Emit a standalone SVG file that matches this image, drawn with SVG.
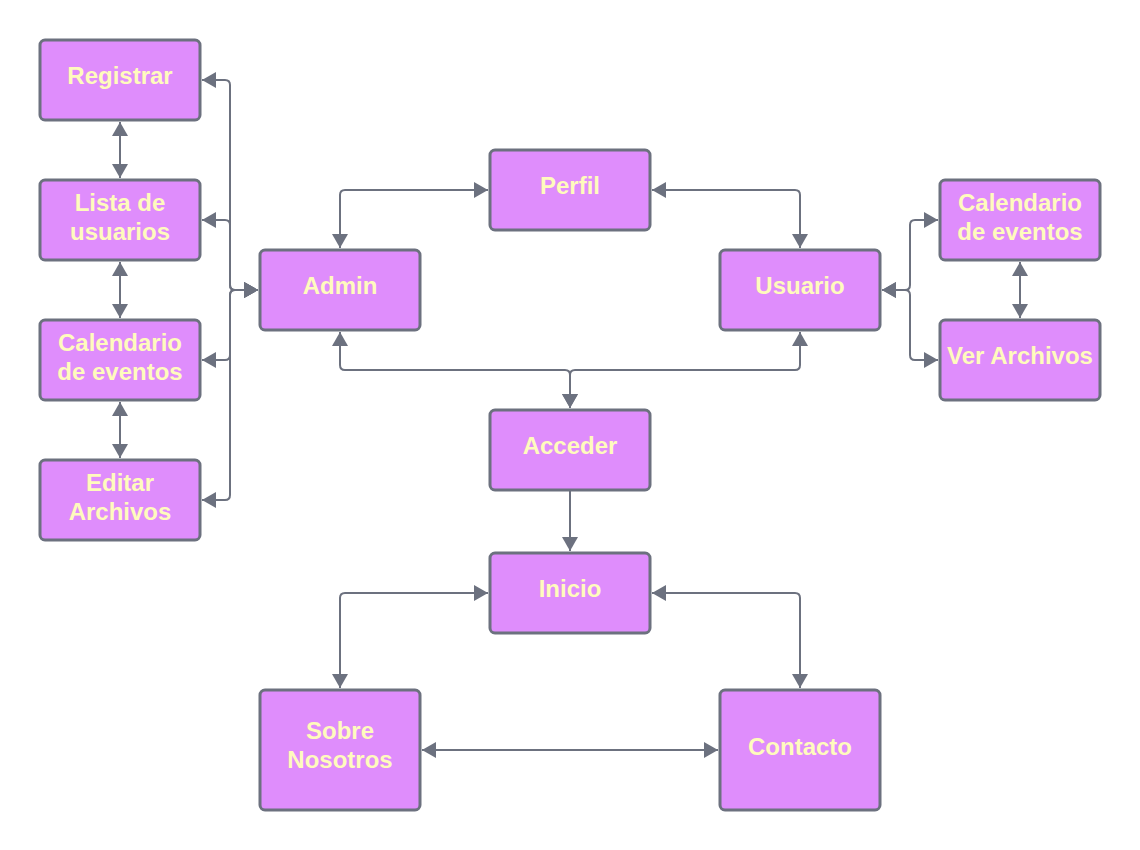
<svg xmlns="http://www.w3.org/2000/svg" width="1140" height="850" viewBox="0 0 1140 850">
  <style>
    .box { fill: #df8dfc; stroke: #6c717f; stroke-width: 3; }
    .lbl { font-family: "Liberation Sans", Arial, sans-serif; font-weight: bold; font-size: 24px; fill: #fffbbd; text-anchor: middle; }
    .wire { fill: none; stroke: #6c717f; stroke-width: 2; }
    .both { marker-start: url(#head); marker-end: url(#head); }
    .end { marker-end: url(#head); }
  </style>
  <defs>
    <marker id="head" viewBox="0 0 14 16" refX="14" refY="8" markerWidth="14" markerHeight="16" markerUnits="userSpaceOnUse" orient="auto-start-reverse">
      <path d="M0,0 L14,8 L0,16 Z" fill="#6c717f"/>
    </marker>
  </defs>
  <rect width="1140" height="850" fill="#ffffff"/>

  <!-- connectors -->
  <g id="connectors">
    <!-- left column chain -->
    <path class="wire both" d="M120,122 V178"/>
    <path class="wire both" d="M120,262 V318"/>
    <path class="wire both" d="M120,402 V458"/>
    <!-- Admin fan-out to the left column -->
    <path class="wire both" d="M258,290 H235 Q230,290 230,285 V85 Q230,80 225,80 H202"/>
    <path class="wire both" d="M258,290 H235 Q230,290 230,285 V225 Q230,220 225,220 H202"/>
    <path class="wire both" d="M258,290 H235 Q230,290 230,295 V355 Q230,360 225,360 H202"/>
    <path class="wire both" d="M258,290 H235 Q230,290 230,295 V495 Q230,500 225,500 H202"/>
    <!-- Admin / Perfil / Usuario -->
    <path class="wire both" d="M340,248 V195 Q340,190 345,190 H488"/>
    <path class="wire both" d="M652,190 H795 Q800,190 800,195 V248"/>
    <!-- Usuario fan-out to the right column -->
    <path class="wire both" d="M882,290 H905 Q910,290 910,285 V225 Q910,220 915,220 H938"/>
    <path class="wire both" d="M882,290 H905 Q910,290 910,295 V355 Q910,360 915,360 H938"/>
    <path class="wire both" d="M1020,262 V318"/>
    <!-- Acceder to Admin and Usuario -->
    <path class="wire both" d="M570,408 V375 Q570,370 565,370 H345 Q340,370 340,365 V332"/>
    <path class="wire both" d="M570,408 V375 Q570,370 575,370 H795 Q800,370 800,365 V332"/>
    <!-- Acceder to Inicio -->
    <path class="wire end" d="M570,491 V551"/>
    <!-- Inicio / Sobre Nosotros / Contacto -->
    <path class="wire both" d="M488,593 H345 Q340,593 340,598 V688"/>
    <path class="wire both" d="M652,593 H795 Q800,593 800,598 V688"/>
    <path class="wire both" d="M422,750 H718"/>
  </g>

  <!-- nodes -->
  <g id="registrar">
    <rect class="box" x="40" y="40" width="160" height="80" rx="5"/>
    <text class="lbl" x="120" y="84">Registrar</text>
  </g>
  <g id="lista-usuarios">
    <rect class="box" x="40" y="180" width="160" height="80" rx="5"/>
    <text class="lbl" x="120" y="211">Lista de</text>
    <text class="lbl" x="120" y="240">usuarios</text>
  </g>
  <g id="calendario-admin">
    <rect class="box" x="40" y="320" width="160" height="80" rx="5"/>
    <text class="lbl" x="120" y="351">Calendario</text>
    <text class="lbl" x="120" y="380">de eventos</text>
  </g>
  <g id="editar-archivos">
    <rect class="box" x="40" y="460" width="160" height="80" rx="5"/>
    <text class="lbl" x="120" y="491">Editar</text>
    <text class="lbl" x="120" y="520">Archivos</text>
  </g>
  <g id="admin">
    <rect class="box" x="260" y="250" width="160" height="80" rx="5"/>
    <text class="lbl" x="340" y="294">Admin</text>
  </g>
  <g id="perfil">
    <rect class="box" x="490" y="150" width="160" height="80" rx="5"/>
    <text class="lbl" x="570" y="194">Perfil</text>
  </g>
  <g id="usuario">
    <rect class="box" x="720" y="250" width="160" height="80" rx="5"/>
    <text class="lbl" x="800" y="294">Usuario</text>
  </g>
  <g id="calendario-usuario">
    <rect class="box" x="940" y="180" width="160" height="80" rx="5"/>
    <text class="lbl" x="1020" y="211">Calendario</text>
    <text class="lbl" x="1020" y="240">de eventos</text>
  </g>
  <g id="ver-archivos">
    <rect class="box" x="940" y="320" width="160" height="80" rx="5"/>
    <text class="lbl" x="1020" y="364">Ver Archivos</text>
  </g>
  <g id="acceder">
    <rect class="box" x="490" y="410" width="160" height="80" rx="5"/>
    <text class="lbl" x="570" y="454">Acceder</text>
  </g>
  <g id="inicio">
    <rect class="box" x="490" y="553" width="160" height="80" rx="5"/>
    <text class="lbl" x="570" y="597">Inicio</text>
  </g>
  <g id="sobre-nosotros">
    <rect class="box" x="260" y="690" width="160" height="120" rx="5"/>
    <text class="lbl" x="340" y="739">Sobre</text>
    <text class="lbl" x="340" y="768">Nosotros</text>
  </g>
  <g id="contacto">
    <rect class="box" x="720" y="690" width="160" height="120" rx="5"/>
    <text class="lbl" x="800" y="755">Contacto</text>
  </g>
</svg>
